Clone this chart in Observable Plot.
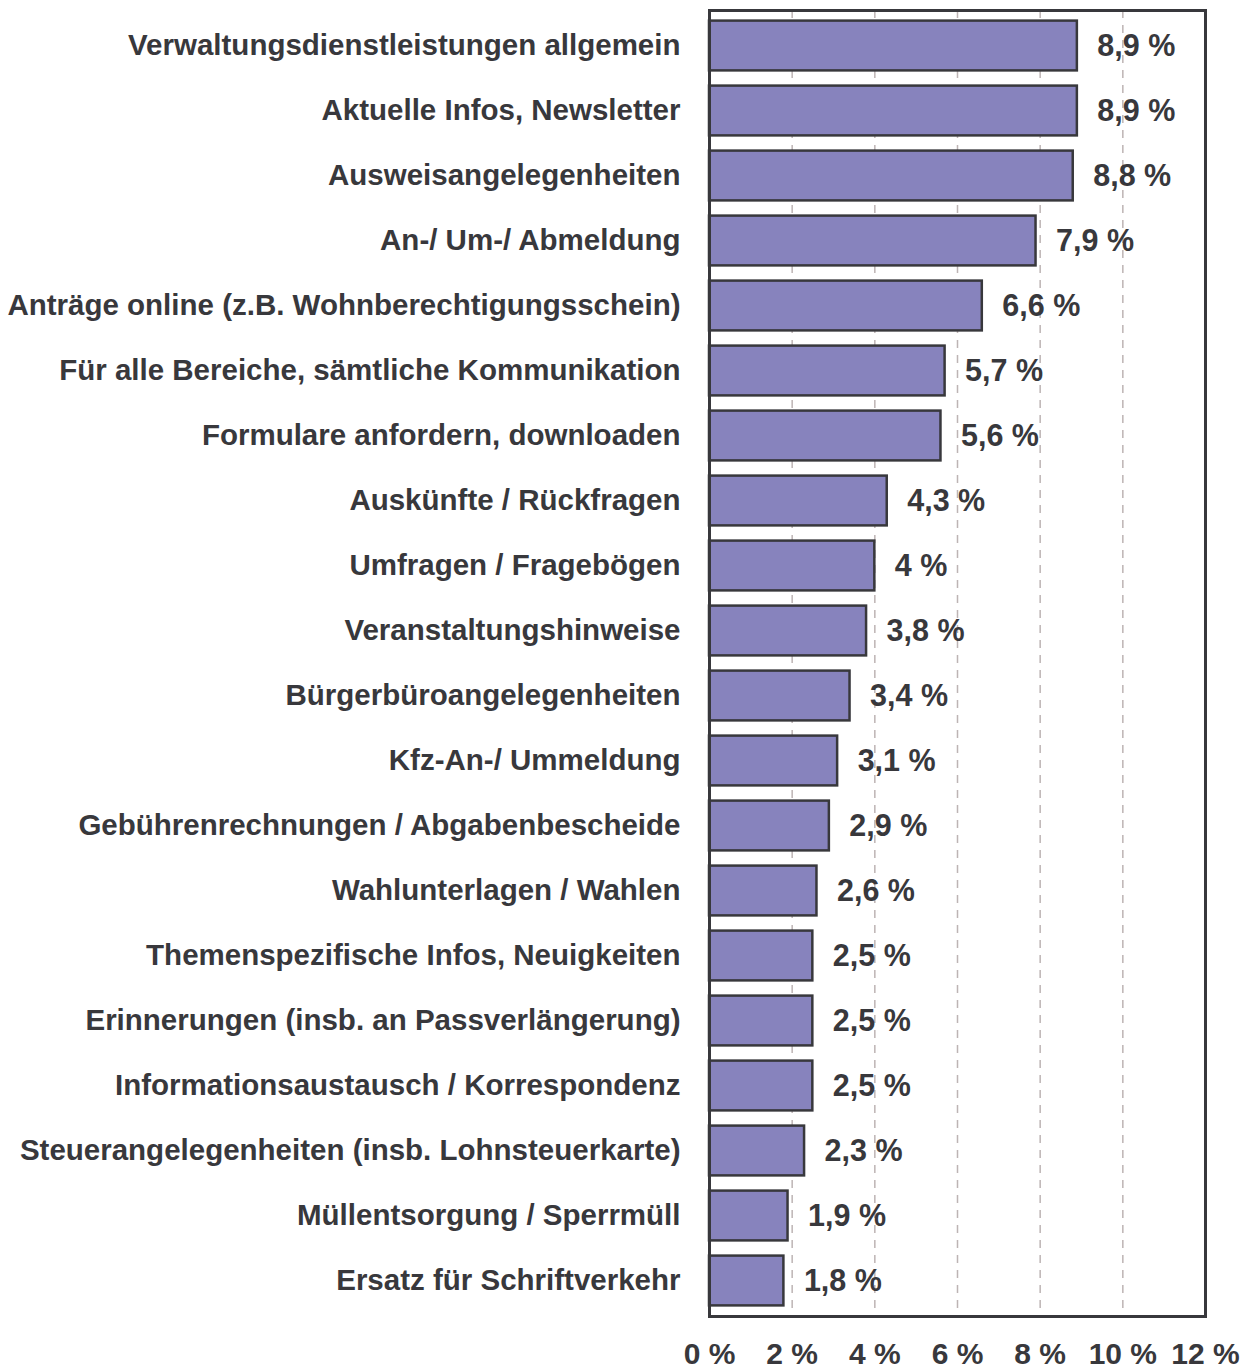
<!DOCTYPE html>
<html>
<head>
<meta charset="utf-8">
<script src="https://cdn.jsdelivr.net/npm/d3@7"></script>
<script src="https://cdn.jsdelivr.net/npm/@observablehq/plot@0.6"></script>
<style>
  html, body { margin: 0; padding: 0; background: #fff; }
  #chart svg { display: block; }
</style>
</head>
<body>
<div id="chart"></div>
<script>
const categories = [
  "Verwaltungsdienstleistungen allgemein",
  "Aktuelle Infos, Newsletter",
  "Ausweisangelegenheiten",
  "An-/ Um-/ Abmeldung",
  "Anträge online (z.B. Wohnberechtigungsschein)",
  "Für alle Bereiche, sämtliche Kommunikation",
  "Formulare anfordern, downloaden",
  "Auskünfte / Rückfragen",
  "Umfragen / Fragebögen",
  "Veranstaltungshinweise",
  "Bürgerbüroangelegenheiten",
  "Kfz-An-/ Ummeldung",
  "Gebührenrechnungen / Abgabenbescheide",
  "Wahlunterlagen / Wahlen",
  "Themenspezifische Infos, Neuigkeiten",
  "Erinnerungen (insb. an Passverlängerung)",
  "Informationsaustausch / Korrespondenz",
  "Steuerangelegenheiten (insb. Lohnsteuerkarte)",
  "Müllentsorgung / Sperrmüll",
  "Ersatz für Schriftverkehr"
];
const values = [8.9, 8.9, 8.8, 7.9, 6.6, 5.7, 5.6, 4.3, 4, 3.8, 3.4, 3.1, 2.9, 2.6, 2.5, 2.5, 2.5, 2.3, 1.9, 1.8];
const xTicks = [0, 2, 4, 6, 8, 10, 12];
const gridTicks = [2, 4, 6, 8, 10];

const data = categories.map((c, i) => ({category: c, value: values[i]}));
const fmt = v => String(v).replace(".", ",") + " %";

const chart = Plot.plot({
  width: 1244,
  height: 1370,
  marginLeft: 709,
  marginRight: 39,
  marginTop: 10,
  marginBottom: 54,
  style: {
    fontFamily: "'Liberation Sans', Arial, sans-serif",
    fontSize: "26px",
    fontWeight: "bold",
    color: "#333"
  },
  x: {domain: [0, 12]},
  y: {domain: categories, padding: 0},
  marks: [
    Plot.ruleX(gridTicks, {stroke: "#bdb4b4", strokeWidth: 1.5, strokeDasharray: "8,7"}),
    Plot.barX(data, {
      y: "category", x: "value",
      fill: "#8783bd", stroke: "#38383c", strokeWidth: 2.5,
      insetTop: 7.6, insetBottom: 7.6
    }),
    Plot.text(data, {
      y: "category", x: "value", text: d => fmt(d.value),
      textAnchor: "start", dx: 20, fill: "#38383c",
      fontSize: 30.5, fontWeight: "bold"
    }),
    Plot.frame({stroke: "#38383c", strokeWidth: 3}),
    Plot.axisY({tickSize: 0, tickPadding: 29, label: null, fill: "#38383c", fontSize: 29.5, fontWeight: "bold"}),
    Plot.axisX(xTicks, {tickSize: 0, tickPadding: 26, label: null, tickFormat: d => d + " %", fill: "#38383c", fontSize: 30, fontWeight: "bold"})
  ]
});
document.getElementById("chart").appendChild(chart);
</script>
</body>
</html>
